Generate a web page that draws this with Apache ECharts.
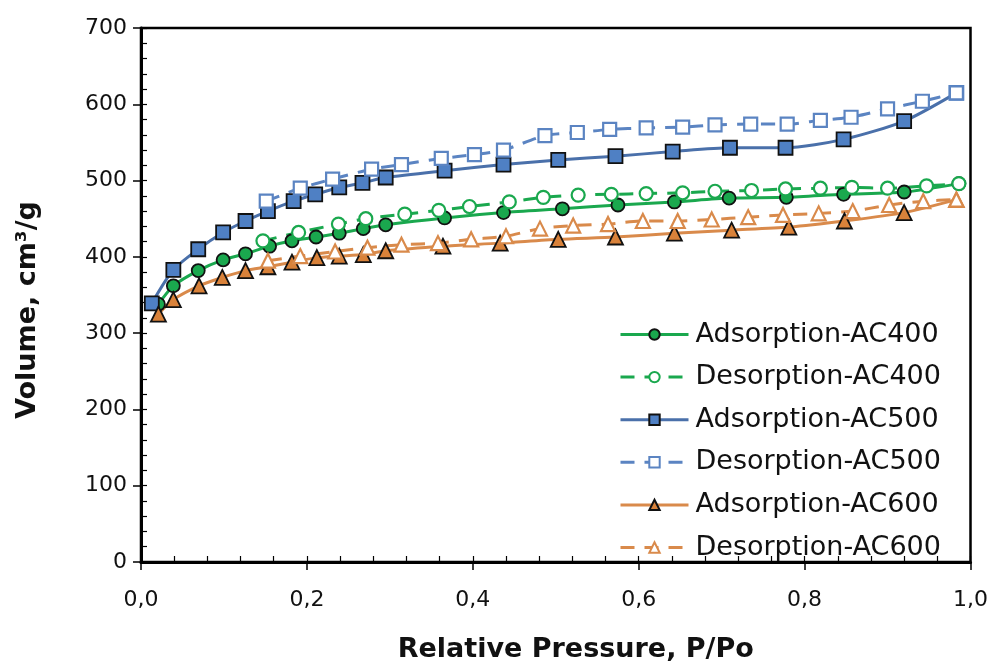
<!DOCTYPE html>
<html>
<head>
<meta charset="utf-8">
<script src="https://cdn.jsdelivr.net/npm/echarts@6/dist/echarts.min.js"></script>
<style>html,body{margin:0;padding:0;background:#fff}#c{width:991px;height:668px}</style>
</head>
<body>
<div id="c"></div>
<script>
// ---- data ----
const ads400X = [0.021,0.039,0.069,0.099,0.126,0.155,0.182,0.211,0.239,0.268,0.295,0.366,0.437,0.508,0.575,0.643,0.709,0.778,0.847,0.920,0.986];
const ads400Y = [338,362,382,396,404,414,421,426,431,437,442,451,458,463,468,472,477,478,482,485,496];
const des400X = [0.147,0.190,0.238,0.271,0.318,0.359,0.396,0.444,0.485,0.527,0.567,0.609,0.653,0.692,0.736,0.777,0.819,0.857,0.900,0.947,0.986];
const des400Y = [421,432,443,450,456,461,466,472,478,481,482,483,484,486,487,489,490,491,490,493,496];
const ads500X = [0.013,0.039,0.069,0.099,0.126,0.153,0.184,0.210,0.239,0.267,0.295,0.366,0.437,0.503,0.572,0.641,0.710,0.777,0.847,0.920,0.983];
const ads500Y = [339,383,410,432,447,460,473,482,491,497,504,513,521,527,532,538,543,543,554,578,615];
const des500X = [0.151,0.192,0.231,0.278,0.314,0.362,0.402,0.437,0.487,0.526,0.565,0.609,0.653,0.692,0.735,0.779,0.819,0.856,0.900,0.942,0.983];
const des500Y = [473,490,502,515,521,529,534,540,559,563,567,569,570,573,574,574,579,583,594,604,615];
const ads600X = [0.021,0.039,0.070,0.098,0.126,0.153,0.182,0.212,0.239,0.268,0.295,0.364,0.433,0.503,0.572,0.643,0.712,0.781,0.848,0.920,0.983];
const ads600Y = [325,344,362,373,382,387,393,399,401,403,408,414,418,423,426,431,435,439,447,458,475];
const des600X = [0.153,0.192,0.234,0.273,0.314,0.358,0.398,0.440,0.481,0.521,0.563,0.605,0.647,0.688,0.732,0.774,0.817,0.858,0.902,0.943,0.983];
const des600Y = [395,401,407,412,416,418,423,427,437,441,443,447,447,449,452,455,457,460,468,473,475];
const seriesNames = ['Adsorption-AC400','Desorption-AC400','Adsorption-AC500','Desorption-AC500','Adsorption-AC600','Desorption-AC600'];
const xTitle = 'Relative Pressure, P/Po';
const yTitle = 'Volume, cm³/g';

const FONT = 'DejaVu Sans';
const GREEN = '#1aa84e', BLUE = '#4a70aa', BLUEF = '#4f80c4', ORANGE = '#d98a4b', ORANGEF = '#d9823a';
const BLUED = '#5b84c2';

function ads(name, xs, ys, color, fill, symbol, size, plainLast){
  const n = xs.length;
  const data = xs.map((x,i)=>{
    if (plainLast && i === n-1) return {value:[x, ys[i]], itemStyle:{borderColor:fill}};
    return [x, ys[i]];
  });
  return {
    name, type:'line', data, smooth:0.25, symbol, symbolSize:size,
    lineStyle:{color, width:3},
    itemStyle:{color:fill, borderColor:'#111', borderWidth:1.8},
    emphasis:{disabled:true}
  };
}
function des(name, xs, ys, color, symbol, size){
  return {
    name, type:'line', data:xs.map((x,i)=>[x, ys[i]]), smooth:0.25, symbol, symbolSize:size,
    lineStyle:{color, width:3, type:[14,10]},
    itemStyle:{color:'#fff', borderColor:color, borderWidth:2.2},
    emphasis:{disabled:true}
  };
}

const chart = echarts.init(document.getElementById('c'), null, {renderer:'canvas'});
chart.setOption({
  animation:false,
  backgroundColor:'#fff',
  grid:{left:141, right:20, top:28, bottom:100, show:true, borderColor:'#000', borderWidth:2.5, backgroundColor:'transparent'},
  legend:{
    orient:'vertical', left:614, top:316, itemWidth:68, itemHeight:13, itemGap:15.6,
    lineStyle:{width:3},
    textStyle:{fontFamily:FONT, fontSize:27, color:'#111', padding:[0,0,0,2]},
    data:seriesNames
  },
  xAxis:[{
    type:'value', min:0, max:1, interval:0.2,
    name:xTitle, nameLocation:'middle', nameGap:74,
    nameTextStyle:{fontFamily:FONT, fontSize:27, fontWeight:'bold', color:'#111', padding:[0,0,0,40]},
    axisLine:{show:true, lineStyle:{color:'#000', width:3}},
    axisTick:{show:true, inside:false, length:8, lineStyle:{color:'#000', width:1.5}},
    axisLabel:{fontFamily:FONT, fontSize:22, color:'#111', margin:27, formatter:v=>v.toFixed(1).replace('.',',')},
    splitLine:{show:false}
  },{
    type:'value', min:0, max:1, interval:0.04, position:'bottom',
    axisLine:{show:false}, axisLabel:{show:false}, splitLine:{show:false},
    axisTick:{show:true, inside:true, length:6, lineStyle:{color:'#000', width:1.2}}
  }],
  yAxis:[{
    type:'value', min:0, max:700, interval:100,
    name:yTitle, nameLocation:'middle', nameGap:100,
    nameTextStyle:{fontFamily:FONT, fontSize:27, fontWeight:'bold', color:'#111', padding:[0,30,0,0]},
    axisLine:{show:true, lineStyle:{color:'#000', width:3}},
    axisTick:{show:true, inside:false, length:8, lineStyle:{color:'#000', width:1.5}},
    axisLabel:{fontFamily:FONT, fontSize:22, color:'#111', margin:14},
    splitLine:{show:false}
  },{
    type:'value', min:0, max:700, interval:20, position:'left',
    axisLine:{show:false}, axisLabel:{show:false}, splitLine:{show:false},
    axisTick:{show:true, inside:true, length:6, lineStyle:{color:'#000', width:1.2}}
  }],
  series:[
    ads(seriesNames[0], ads400X, ads400Y, GREEN, GREEN, 'circle', 13, false),
    des(seriesNames[1], des400X, des400Y, GREEN, 'circle', 13),
    ads(seriesNames[2], ads500X, ads500Y, BLUE, BLUEF, 'rect', 14, true),
    des(seriesNames[3], des500X, des500Y, BLUED, 'rect', 13),
    ads(seriesNames[4], ads600X, ads600Y, ORANGE, ORANGEF, 'triangle', 15, true),
    des(seriesNames[5], des600X, des600Y, ORANGE, 'triangle', 14)
  ]
});
</script>
</body>
</html>
